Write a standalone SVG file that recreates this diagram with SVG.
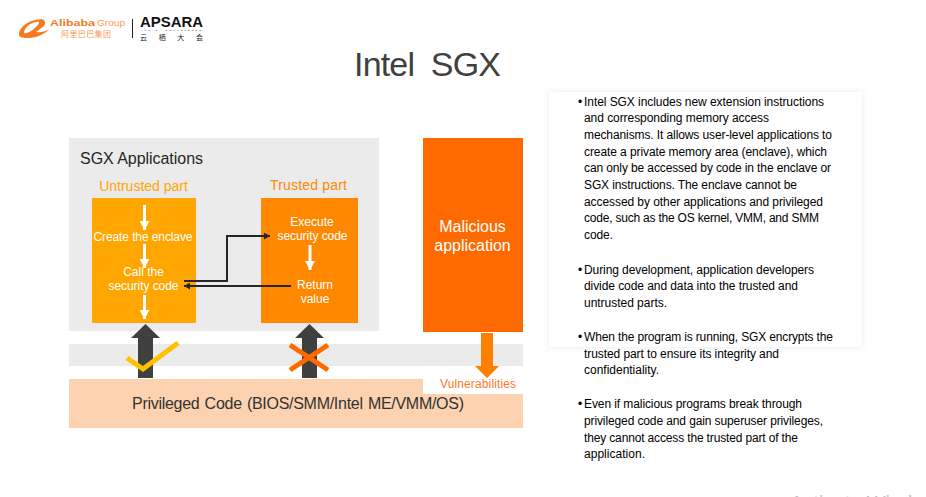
<svg xmlns="http://www.w3.org/2000/svg" width="926" height="497" viewBox="0 0 926 497">
<defs>
<filter id="sh" x="-5%" y="-5%" width="110%" height="110%"><feDropShadow dx="0" dy="0" stdDeviation="3" flood-color="#000" flood-opacity="0.08"/></filter>
<marker id="mw" markerUnits="userSpaceOnUse" markerWidth="10" markerHeight="10" refX="9" refY="5" orient="auto"><path d="M0 0L9 5L0 10Z" fill="#fff"/></marker>
<marker id="mk" markerUnits="userSpaceOnUse" markerWidth="7" markerHeight="7" refX="6" refY="3.5" orient="auto"><path d="M0 0L6 3.500L0 7Z" fill="#262626"/></marker>
</defs>
<style>
text{font-family:"Liberation Sans",Arial,sans-serif}
.cjk{font-family:"Noto Sans CJK SC",sans-serif}
.w{fill:#fff;font-size:12px;text-anchor:middle}
.b{fill:#000;font-size:12px}
.wl{stroke:#fff;stroke-width:3;fill:none;marker-end:url(#mw)}
.kl{stroke:#262626;stroke-width:2;fill:none;marker-end:url(#mk)}
.dk{fill:#404040}
</style>
<rect width="926" height="497" fill="#fff"/>
<g id="logo">
<path d="M19 35C18 29 26 22 35 20L42 19C45 20 46 23 44 26L36 32C41 33 46 31 49 29C45 34 38 37 30 38C24 38 20 38 19 35ZM24 33C27 34 32 31 37 26C40 23 40 21 36 22C30 23 24 28 24 33Z" fill="#f47a1f"/>
<text x="50" y="26" font-size="9" font-weight="bold" fill="#f47a1f" textLength="45" lengthAdjust="spacingAndGlyphs">Alibaba</text>
<text x="97" y="26" font-size="9" fill="#f79a55" textLength="28" lengthAdjust="spacingAndGlyphs">Group</text>
<text class="cjk" x="61" y="37" font-size="8" fill="#f79a55" textLength="50">阿里巴巴集团</text>
<rect x="132" y="19" width="1" height="19" fill="#222"/>
<text x="140" y="27" font-size="14" font-weight="bold" fill="#111" textLength="63" lengthAdjust="spacingAndGlyphs">APSARA</text>
<text x="141" y="31" font-size="2.500" fill="#333" textLength="60">APSARA CONFERENCE</text>
<text class="cjk" x="140" y="39.500" font-size="7" fill="#222" textLength="63">云栖大会</text>
</g>
<text id="title" x="354" y="76" font-size="34" fill="#404040" textLength="147" word-spacing="8">Intel SGX</text>
<g id="sgx-applications">
<rect x="69" y="138" width="310" height="193" fill="#ebebeb"/>
<text x="80" y="164" font-size="16" fill="#262626" textLength="123">SGX Applications</text>
</g>
<g id="os-band"><rect x="69" y="344" width="454" height="22" fill="#ebebeb"/></g>
<g id="untrusted">
<text x="143.500" y="191" font-size="14" fill="#ffa500" text-anchor="middle">Untrusted part</text>
<rect x="92" y="198" width="104" height="125" fill="#ffa600"/>
<text class="w" x="143" y="241" textLength="99">Create the enclave</text>
<text class="w" x="143.500" y="276">Call the</text>
<text class="w" x="143.500" y="290" textLength="70">security code</text>
</g>
<g id="trusted">
<text x="308.500" y="190" font-size="14" fill="#ff8800" text-anchor="middle" textLength="77">Trusted part</text>
<rect x="261" y="198" width="97" height="125" fill="#ff8800"/>
<text class="w" x="312" y="226">Execute</text>
<text class="w" x="312.500" y="240" textLength="70">security code</text>
<text class="w" x="315" y="289">Return</text>
<text class="w" x="315" y="303">value</text>
</g>
<g id="malicious">
<rect x="423" y="138" width="100" height="194" fill="#ff6a00"/>
<text x="472.500" y="232" font-size="16" fill="#fff" text-anchor="middle">Malicious</text>
<text x="472.500" y="251" font-size="16" fill="#fff" text-anchor="middle">application</text>
</g>
<g id="privileged">
<rect x="69" y="379" width="454" height="49" fill="#fdd2b0"/>
<rect x="423" y="379" width="100" height="15" fill="#fff"/>
<text x="132" y="409" font-size="16" fill="#333" textLength="332" word-spacing="1">Privileged Code (BIOS/SMM/Intel ME/VMM/OS)</text>
<text x="440" y="388" font-size="12" fill="#ff7a2a" textLength="76">Vulnerabilities</text>
</g>
<g id="connectors">
<path class="wl" d="M144.500 205V230"/>
<path class="wl" d="M144.500 244V268"/>
<path class="wl" d="M144.500 295V319"/>
<path class="wl" d="M310 245V270"/>
<path class="kl" d="M184 281H227V236H270"/>
<path class="kl" d="M291 286H184"/>
<path class="dk" d="M145.500 324L160 338H153V378H138V338H131Z"/>
<path class="dk" d="M309.500 324L324 338H317V378H302V338H295Z"/>
<path d="M127 358L143 369L178 343" fill="none" stroke="#ffc000" stroke-width="5"/>
<path d="M290 345L328 370M328 345L290 370" fill="none" stroke="#ff6a00" stroke-width="5"/>
<path d="M481 333H493V366H499L487 378L475 366H481Z" fill="#ff8000"/>
</g>
<g id="notes">
<rect x="549" y="92" width="313" height="255" fill="#fff" filter="url(#sh)"/>
<text class="b" x="578" y="106">•</text><text class="b" x="584" y="106" textLength="240">Intel SGX includes new extension instructions</text>
<text class="b" x="584" y="122" textLength="185">and corresponding memory access</text>
<text class="b" x="584" y="139" textLength="248">mechanisms. It allows user-level applications to</text>
<text class="b" x="584" y="156" textLength="243">create a private memory area (enclave), which</text>
<text class="b" x="584" y="172" textLength="247">can only be accessed by code in the enclave or</text>
<text class="b" x="584" y="189" textLength="213">SGX instructions. The enclave cannot be</text>
<text class="b" x="584" y="206" textLength="239">accessed by other applications and privileged</text>
<text class="b" x="584" y="222" textLength="235">code, such as the OS kernel, VMM,  and SMM</text>
<text class="b" x="584" y="239" textLength="29">code.</text>
<text class="b" x="578" y="274">•</text><text class="b" x="584" y="274" textLength="230">During development, application developers</text>
<text class="b" x="584" y="290" textLength="214">divide code and data into the trusted and</text>
<text class="b" x="584" y="307" textLength="83">untrusted parts.</text>
<text class="b" x="578" y="341">•</text><text class="b" x="584" y="341" textLength="249">When the program is running, SGX encrypts the</text>
<text class="b" x="584" y="358" textLength="195">trusted part to ensure its integrity and</text>
<text class="b" x="584" y="374" textLength="75">confidentiality.</text>
<text class="b" x="578" y="408">•</text><text class="b" x="584" y="408" textLength="218">Even if malicious programs break through</text>
<text class="b" x="584" y="425" textLength="239">privileged code and gain superuser privileges,</text>
<text class="b" x="584" y="442" textLength="214">they cannot access the trusted part of the</text>
<text class="b" x="584" y="458" textLength="61">application.</text>
</g>
<text id="watermark" x="790" y="510" font-size="20" fill="#c4c4c4">Activate Windows</text>
</svg>
